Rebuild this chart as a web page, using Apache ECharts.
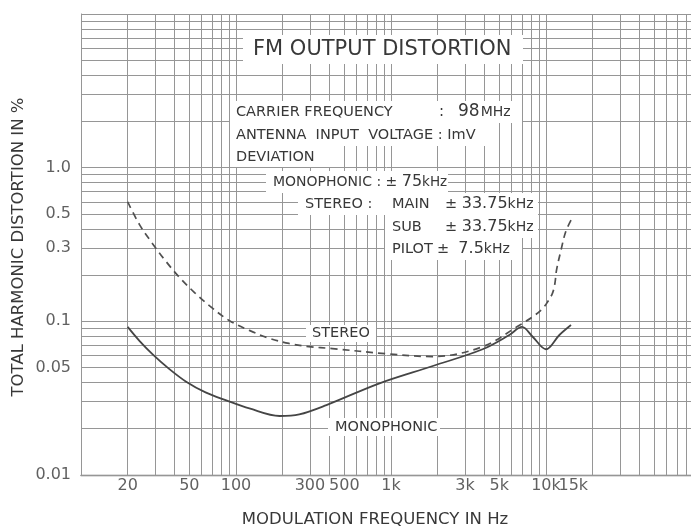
<!DOCTYPE html>
<html><head><meta charset="utf-8">
<script src="https://cdn.jsdelivr.net/npm/echarts@6/dist/echarts.min.js"></script>
<style>html,body{margin:0;padding:0;background:#fff}#c{width:691px;height:529px}</style>
</head><body><div id="c"></div>
<script>
// ---- data ----
const monoFreq = [20, 23.9, 29, 37.2, 47.7, 63.6, 86.5, 122, 191, 256, 383, 843, 1860, 3900, 5800, 7000, 8200, 10000, 12200, 14500];
const monoThd  = [0.092, 0.0744, 0.0610, 0.0489, 0.0405, 0.0345, 0.0306, 0.0271, 0.0242, 0.0248, 0.0285, 0.0395, 0.0512, 0.0658, 0.0815, 0.092, 0.0794, 0.0658, 0.0815, 0.0946];
const stereoFreq = [20, 23.9, 29.1, 35.5, 43.2, 54, 67.6, 90.8, 122, 163, 220, 295, 419, 930, 1860, 3900, 6700, 8200, 9500, 10300, 11000, 11400, 11700, 12500, 13400, 14700];
const stereoThd  = [0.60, 0.424, 0.318, 0.244, 0.193, 0.154, 0.126, 0.101, 0.0873, 0.0777, 0.0718, 0.0685, 0.0665, 0.0615, 0.059, 0.0684, 0.094, 0.107, 0.121, 0.135, 0.152, 0.175, 0.216, 0.291, 0.383, 0.468];
const xTickValues = [20, 50, 100, 300, 500, 1000, 3000, 5000, 10000, 15000];
const xTickLabels = ['20', '50', '100', '300', '500', '1k', '3k', '5k', '10k', '15k'];
const yTickValues = [1, 0.5, 0.3, 0.1, 0.05, 0.01];
const yTickLabels = ['1.0', '0.5', '0.3', '0.1', '0.05', '0.01'];
const gridMantissas = [1, 2, 3, 4, 5, 6, 7, 8, 9];
const xDecades = [10, 100, 1000, 10000];
const yDecades = [0.01, 0.1, 1];
const yTop = 10;

// ---- build ----
const gridLines = [];
xDecades.forEach(d => gridMantissas.forEach(m => gridLines.push({ xAxis: d * m })));
yDecades.forEach(d => gridMantissas.forEach(m => gridLines.push({ yAxis: +(d * m).toPrecision(6) })));
gridLines.push({ yAxis: yTop });

const TXT = '#383838';
const FONT = '"DejaVu Sans", sans-serif';

function patch(x, y, w, h) {
  return { type: 'rect', z: 10, silent: true, shape: { x, y, width: w, height: h }, style: { fill: '#fff' } };
}
function txt(x, y, text, size) {
  return { type: 'text', z: 11, silent: true, x, y,
    style: { text, fill: TXT, font: size + 'px ' + FONT, textAlign: 'left', textVerticalAlign: 'middle' } };
}
function richTxt(x, y, text, sizes) {
  return { type: 'text', z: 11, silent: true, x, y,
    style: { text, fill: TXT, textVerticalAlign: 'middle',
      rich: {
        a: { fontSize: sizes[0], fontFamily: 'DejaVu Sans', fill: TXT },
        b: { fontSize: sizes[1], fontFamily: 'DejaVu Sans', fill: TXT },
        c: { fontSize: sizes[2], fontFamily: 'DejaVu Sans', fill: TXT }
      } } };
}

const chart = echarts.init(document.getElementById('c'), null, { renderer: 'canvas' });
chart.setOption({
  backgroundColor: '#fff',
  animation: false,
  grid: { left: 81, top: 14, right: -10, bottom: 54, containLabel: false, outerBoundsMode: 'none' },
  xAxis: {
    type: 'log', logBase: 10, min: 10, max: 100000,
    axisLine: { show: true, lineStyle: { color: '#777', width: 1.3 } },
    axisTick: { show: false }, axisLabel: { show: false }, splitLine: { show: false }
  },
  yAxis: {
    type: 'log', logBase: 10, min: 0.01, max: 10,
    axisLine: { show: true, lineStyle: { color: '#888', width: 1 } },
    axisTick: { show: false }, axisLabel: { show: false }, splitLine: { show: false }
  },
  series: [
    {
      name: 'grid', type: 'scatter', data: [], symbolSize: 0, silent: true,
      markLine: {
        z: 1, silent: true, symbol: ['none', 'none'], animation: false,
        label: { show: false },
        lineStyle: { color: '#969696', width: 1, type: 'solid' },
        emphasis: { disabled: true },
        data: gridLines
      }
    },
    {
      name: 'xticks', type: 'scatter', clip: false, silent: true, symbolSize: 0,
      itemStyle: { color: 'transparent' },
      label: { show: true, position: 'bottom', distance: 3, color: TXT, fontFamily: 'DejaVu Sans', fontSize: 16 },
      data: xTickValues.map((v, i) => ({ value: [v, 0.01], label: { formatter: xTickLabels[i] } }))
    },
    {
      name: 'yticks', type: 'scatter', clip: false, silent: true, symbolSize: 0,
      itemStyle: { color: 'transparent' },
      label: { show: true, position: 'left', distance: 10, color: TXT, fontFamily: 'DejaVu Sans', fontSize: 16 },
      data: yTickValues.map((v, i) => ({ value: [10, v], label: { formatter: yTickLabels[i] } }))
    },
    {
      name: 'MONOPHONIC', type: 'line', z: 3, smooth: 0.35, symbol: 'none',
      lineStyle: { color: '#454545', width: 1.8 },
      data: monoFreq.map((f, i) => [f, monoThd[i]])
    },
    {
      name: 'STEREO', type: 'line', z: 3, smooth: 0.35, symbol: 'none',
      lineStyle: { color: '#505050', width: 1.7, type: [7, 5] },
      data: stereoFreq.map((f, i) => [f, stereoThd[i]])
    }
  ],
  graphic: [
    patch(243, 35, 280, 29),
    txt(253, 50, 'FM OUTPUT DISTORTION', 21),
    patch(230, 101, 292, 22),
    patch(230, 123, 268, 23),
    patch(230, 146, 100, 21),
    patch(266, 171, 182, 22),
    patch(298, 193, 240, 22),
    patch(385, 215, 153, 23),
    patch(385, 238, 137, 22),
    txt(236, 112, 'CARRIER FREQUENCY', 14.5),
    { type: 'text', z: 11, silent: true, x: 439, y: 112,
      style: { text: '{a|:}{b|98}{c|MHz}', fill: TXT, textVerticalAlign: 'middle',
        rich: { a: { fontSize: 15, fontFamily: 'DejaVu Sans', fill: TXT },
                b: { fontSize: 17, fontFamily: 'DejaVu Sans', fill: TXT, padding: [0, 1, 0, 14] },
                c: { fontSize: 14, fontFamily: 'DejaVu Sans', fill: TXT } } } },
    txt(236, 135, 'ANTENNA  INPUT  VOLTAGE : ImV', 14.5),
    txt(236, 157, 'DEVIATION', 14.5),
    richTxt(273, 182, '{a|MONOPHONIC : ± }{b|75}{c|kHz}', [14, 16, 13.5]),
    txt(305, 204, 'STEREO :', 14.5),
    txt(392, 204, 'MAIN', 14.5),
    txt(392, 227, 'SUB', 14.5),
    txt(392, 249, 'PILOT', 14.5),
    richTxt(445, 204, '{a|± }{b|33.75}{c|kHz}', [14.5, 16, 14]),
    richTxt(445, 227, '{a|± }{b|33.75}{c|kHz}', [14.5, 16, 14]),
    richTxt(437, 249, '{a|±  }{b|7.5}{c|kHz}', [14.5, 16, 14]),
    patch(306, 325, 70, 17),
    txt(312, 333, 'STEREO', 14.5),
    patch(328, 418, 112, 18),
    txt(335, 427, 'MONOPHONIC', 14.5),
    { type: 'text', z: 11, silent: true, x: 375, y: 520,
      style: { text: 'MODULATION FREQUENCY IN Hz', fill: TXT, font: '16.5px ' + FONT, textAlign: 'center', textVerticalAlign: 'middle' } },
    { type: 'text', z: 11, silent: true, x: 19, y: 247, rotation: Math.PI / 2,
      style: { text: 'TOTAL HARMONIC DISTORTION IN %', fill: TXT, font: '16.5px ' + FONT, textAlign: 'center', textVerticalAlign: 'middle' } }
  ]
});
</script>
</body></html>
